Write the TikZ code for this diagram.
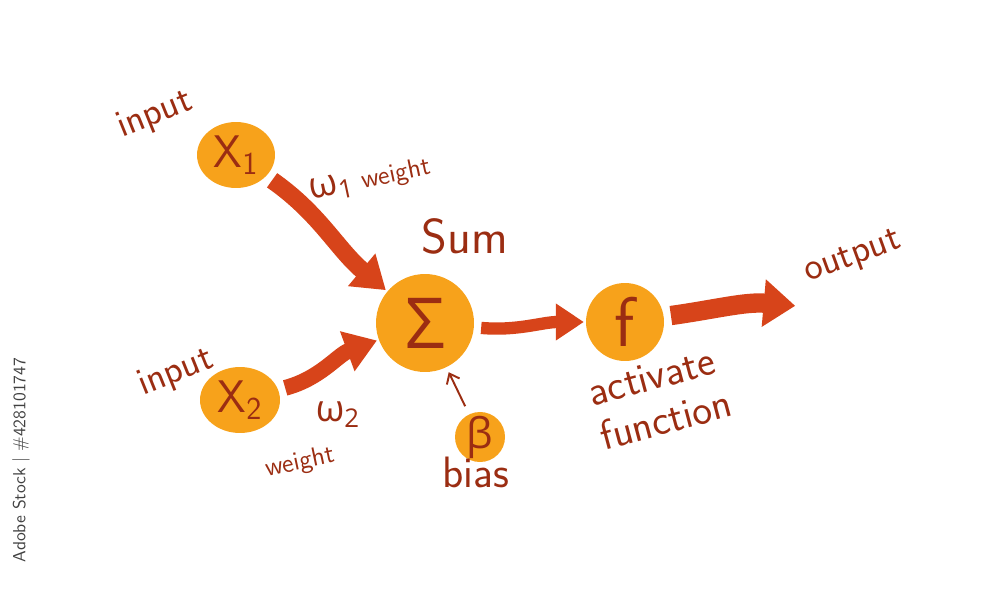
\documentclass[tikz,border=0pt]{standalone}
\usepackage{fontspec}
\newfontfamily\greekfont{Open Sans}
\usetikzlibrary{arrows.meta,shapes.geometric}

\definecolor{ink}{HTML}{9B2D12}
\definecolor{blobfill}{HTML}{F7A21B}
\definecolor{flow}{HTML}{D7441A}

\begin{document}
\begin{tikzpicture}[x=0.02cm, y=0.02cm,
  blob/.style={fill=blobfill, draw=none, inner sep=0pt, text=ink, font=\sffamily\fontsize{26}{30}\selectfont},
  hand/.style={font=\sffamily\fontsize{22}{26}\selectfont, text=ink},
  small/.style={font=\sffamily\fontsize{15}{18}\selectfont, text=ink},
  flowline/.style={draw=flow, line width=9pt, shorten <=4pt, shorten >=1pt,
    -{Triangle[length=18pt, width=23pt]}},
  thinline/.style={draw=ink, line width=1.1pt, shorten <=5pt, shorten >=3pt,
    -{Straight Barb[length=5pt, width=8pt]}},
]
\useasboundingbox (0,0) rectangle (1000,-588);

% the neuron, left to right
\node[blob, ellipse, minimum width=1.56cm, minimum height=1.32cm] (x1) at (236,-155) {X\textsubscript{1}};
\node[blob, ellipse, minimum width=1.60cm, minimum height=1.32cm] (x2) at (240,-400) {X\textsubscript{2}};
\node[blob, circle, minimum size=1.96cm, font=\greekfont\fontsize{40}{44}\selectfont] (sum) at (425,-323) {Σ};
\node[blob, circle, minimum size=0.84cm, font=\greekfont\fontsize{24}{28}\selectfont] (beta) at (480,-437) {β};
\node[blob, circle, minimum size=1.56cm, font=\sffamily\fontsize{40}{44}\selectfont] (f) at (625,-322) {f};
\coordinate (outtip) at (797,-306);

% hand-written labels
\node[hand, rotate=22] (in1) at (155,-115) {input};
\node[small, rotate=12] (w1) at (370,-180) {{\greekfont\fontsize{21}{24}\selectfont ω\textsubscript{1}} weight};
\node[hand, font=\sffamily\fontsize{28}{32}\selectfont] (sumlabel) at (465,-236) {Sum};
\node[hand, rotate=22] (in2) at (176,-373) {input};
\node[small, font=\greekfont\fontsize{21}{24}\selectfont] (w2) at (338,-415) {ω\textsubscript{2}};
\node[small, rotate=12] (wt2) at (300,-463) {weight};
\node[hand, font=\sffamily\fontsize{25}{29}\selectfont] (bias) at (476,-472) {bias};
\node[hand, rotate=15, align=left, font=\sffamily\fontsize{24}{26}\selectfont] (act) at (660,-398) {activate\\function};
\node[hand, rotate=20] (out) at (853,-258) {output};

% side note
\node[rotate=90, font=\sffamily\fontsize{10}{12}\selectfont, text=black!75] (stock) at (21,-460) {Adobe Stock | \#428101747};

% connectors
\draw[flowline, line width=10pt] (x1) to[out=-35, in=140] (sum);
\draw[flowline] (x2) to[out=15, in=200] (sum);
\draw[flowline, line width=7pt, -{Triangle[length=16pt, width=20pt]}] (sum) to[out=-5, in=180] (f);
\draw[flowline, line width=11pt, -{Triangle[length=18pt, width=26pt]}] (f) to[out=8, in=175] (outtip);
\draw[thinline] (beta) -- (sum);
\end{tikzpicture}
\end{document}
